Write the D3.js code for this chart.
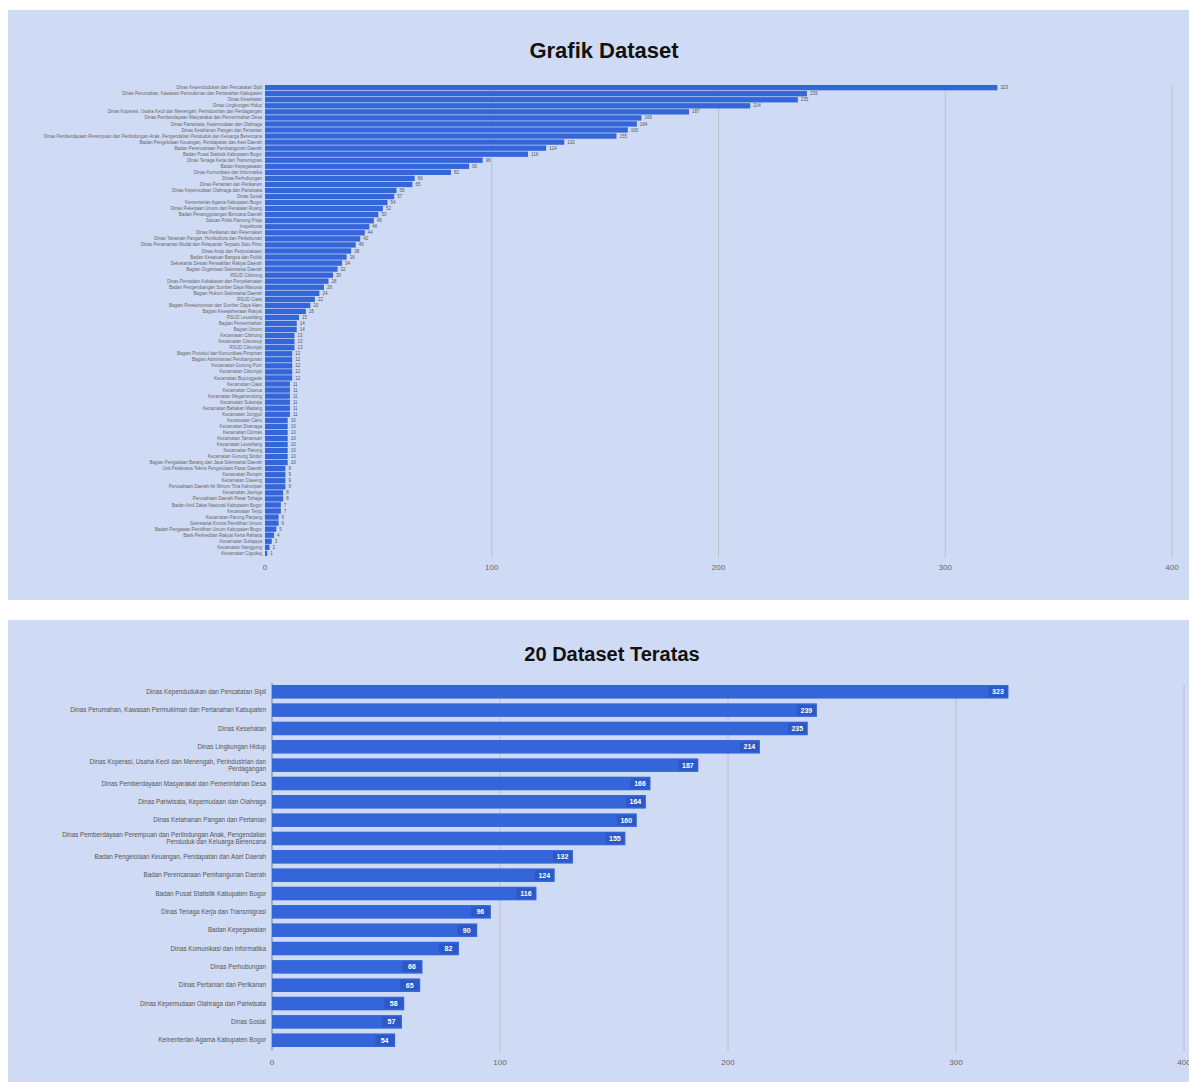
<!DOCTYPE html>
<html>
<head>
<meta charset="utf-8">
<script src="https://cdn.jsdelivr.net/npm/d3@7"></script>
<style>
  body { margin: 0; background: #fff; overflow: hidden; font-family: Arial, "Liberation Sans", sans-serif; }
  svg { display: block; }
</style>
</head>
<body>
<svg id="chart" width="1189" height="1082"></svg>
<script>
/* data */
var topNames = [
  "Dinas Kependudukan dan Pencatatan Sipil",
  "Dinas Perumahan, Kawasan Permukiman dan Pertanahan Kabupaten",
  "Dinas Kesehatan",
  "Dinas Lingkungan Hidup",
  "Dinas Koperasi, Usaha Kecil dan Menengah, Perindustrian dan Perdagangan",
  "Dinas Pemberdayaan Masyarakat dan Pemerintahan Desa",
  "Dinas Pariwisata, Kepemudaan dan Olahraga",
  "Dinas Ketahanan Pangan dan Pertanian",
  "Dinas Pemberdayaan Perempuan dan Perlindungan Anak, Pengendalian Penduduk dan Keluarga Berencana",
  "Badan Pengelolaan Keuangan, Pendapatan dan Aset Daerah",
  "Badan Perencanaan Pembangunan Daerah",
  "Badan Pusat Statistik Kabupaten Bogor",
  "Dinas Tenaga Kerja dan Transmigrasi",
  "Badan Kepegawaian",
  "Dinas Komunikasi dan Informatika",
  "Dinas Perhubungan",
  "Dinas Pertanian dan Perikanan",
  "Dinas Kepemudaan Olahraga dan Pariwisata",
  "Dinas Sosial",
  "Kementerian Agama Kabupaten Bogor"
];
var topValues = [323, 239, 235, 214, 187, 166, 164, 160, 155, 132, 124, 116, 96, 90, 82, 66, 65, 58, 57, 54];

var restNames = [
  "Dinas Pekerjaan Umum dan Penataan Ruang", "Badan Penanggulangan Bencana Daerah", "Satuan Polisi Pamong Praja",
  "Inspektorat", "Dinas Perikanan dan Peternakan", "Dinas Tanaman Pangan, Hortikultura dan Perkebunan",
  "Dinas Penanaman Modal dan Pelayanan Terpadu Satu Pintu", "Dinas Arsip dan Perpustakaan", "Badan Kesatuan Bangsa dan Politik",
  "Sekretariat Dewan Perwakilan Rakyat Daerah", "Bagian Organisasi Sekretariat Daerah", "RSUD Cibinong",
  "Dinas Pemadam Kebakaran dan Penyelamatan", "Badan Pengembangan Sumber Daya Manusia", "Bagian Hukum Sekretariat Daerah",
  "RSUD Ciawi", "Bagian Perekonomian dan Sumber Daya Alam", "Bagian Kesejahteraan Rakyat", "RSUD Leuwiliang",
  "Bagian Pemerintahan", "Bagian Umum", "Kecamatan Cibinong", "Kecamatan Citeureup", "RSUD Cileungsi",
  "Bagian Protokol dan Komunikasi Pimpinan", "Bagian Administrasi Pembangunan", "Kecamatan Gunung Putri",
  "Kecamatan Cileungsi", "Kecamatan Bojonggede", "Kecamatan Ciawi", "Kecamatan Cisarua", "Kecamatan Megamendung",
  "Kecamatan Sukaraja", "Kecamatan Babakan Madang", "Kecamatan Jonggol", "Kecamatan Cariu", "Kecamatan Dramaga",
  "Kecamatan Ciomas", "Kecamatan Tamansari", "Kecamatan Leuwiliang", "Kecamatan Parung", "Kecamatan Gunung Sindur",
  "Bagian Pengadaan Barang dan Jasa Sekretariat Daerah", "Unit Pelaksana Teknis Pengelolaan Pasar Daerah", "Kecamatan Rumpin",
  "Kecamatan Ciseeng", "Perusahaan Daerah Air Minum Tirta Kahuripan", "Kecamatan Jasinga", "Perusahaan Daerah Pasar Tohaga",
  "Badan Amil Zakat Nasional Kabupaten Bogor", "Kecamatan Tenjo", "Kecamatan Parung Panjang", "Sekretariat Komisi Pemilihan Umum",
  "Badan Pengawas Pemilihan Umum Kabupaten Bogor", "Bank Perkreditan Rakyat Kerta Raharja", "Kecamatan Sukajaya",
  "Kecamatan Nanggung", "Kecamatan Cigudeg"
];
var restValues = [
  52, 50, 48, 46, 44, 42, 40, 38, 36, 34, 32, 30, 28, 26, 24, 22, 20, 18,
  15, 14, 14, 13, 13, 13, 12, 12, 12, 12, 12, 11, 11, 11, 11, 11, 11,
  10, 10, 10, 10, 10, 10, 10, 10, 9, 9, 9, 9, 8, 8, 7, 7, 6, 6, 5, 4, 3, 2, 1
];

var allNames = topNames.concat(restNames);
var allValues = topValues.concat(restValues);
var xTicks = [0, 100, 200, 300, 400];

var svg = d3.select("#chart");
var barColor = "#3566d9";
var panelColor = "#cfdbf4";

/* ------- Grafik Dataset ------- */
var g1 = svg.append("g");
g1.append("rect").attr("x", 8).attr("y", 10).attr("width", 1200).attr("height", 590).attr("fill", panelColor);
g1.append("text").attr("x", 604).attr("y", 58).attr("text-anchor", "middle")
  .style("font-size", "22px").style("font-weight", "bold").attr("fill", "#111").text("Grafik Dataset");

var x1 = d3.scaleLinear().domain([0, 400]).range([265, 1172]);
var y1 = d3.scaleBand().domain(d3.range(allValues.length)).range([85, 556]).paddingInner(0.12);

g1.append("g").selectAll("line").data(xTicks.slice(1)).enter().append("line")
  .attr("x1", function(d) { return x1(d); }).attr("x2", function(d) { return x1(d); })
  .attr("y1", 85).attr("y2", 558).attr("stroke", "#b9c0cc").attr("stroke-width", 1);

g1.append("g").selectAll("rect").data(allValues).enter().append("rect")
  .attr("x", x1(0)).attr("y", function(d, i) { return y1(i); })
  .attr("width", function(d) { return x1(d) - x1(0); })
  .attr("height", y1.bandwidth()).attr("fill", barColor);

g1.append("g").selectAll("text").data(allValues).enter().append("text")
  .attr("x", function(d) { return x1(d) + 3; })
  .attr("y", function(d, i) { return y1(i) + y1.bandwidth() / 2; })
  .attr("dy", "0.35em").style("font-size", "4.5px").attr("fill", "#555")
  .text(function(d) { return d; });

g1.append("g").selectAll("text").data(allNames).enter().append("text")
  .attr("x", 262).attr("y", function(d, i) { return y1(i) + y1.bandwidth() / 2; })
  .attr("dy", "0.35em").attr("text-anchor", "end").style("font-size", "4.5px").attr("fill", "#666")
  .text(function(d) { return d; });

g1.append("g").selectAll("text").data(xTicks).enter().append("text")
  .attr("x", function(d) { return x1(d); }).attr("y", 570).attr("text-anchor", "middle")
  .style("font-size", "8px").attr("fill", "#666").text(function(d) { return d; });

/* ------- 20 Dataset Teratas ------- */
var g2 = svg.append("g");
g2.append("rect").attr("x", 8).attr("y", 620).attr("width", 1200).attr("height", 470).attr("fill", panelColor);
g2.append("text").attr("x", 612).attr("y", 661).attr("text-anchor", "middle")
  .style("font-size", "20px").style("font-weight", "bold").attr("fill", "#111").text("20 Dataset Teratas");

var x2 = d3.scaleLinear().domain([0, 400]).range([272, 1184]);
var y2 = d3.scaleBand().domain(d3.range(topValues.length)).range([685, 1047]).paddingInner(0.26);

g2.append("g").selectAll("line").data(xTicks.slice(1)).enter().append("line")
  .attr("x1", function(d) { return x2(d); }).attr("x2", function(d) { return x2(d); })
  .attr("y1", 685).attr("y2", 1052).attr("stroke", "#b9c0cc").attr("stroke-width", 1);
g2.append("line").attr("x1", x2(0)).attr("x2", x2(0)).attr("y1", 683).attr("y2", 1050)
  .attr("stroke", "#6f7fa8").attr("stroke-width", 1);

g2.append("g").selectAll("rect").data(topValues).enter().append("rect")
  .attr("x", x2(0)).attr("y", function(d, i) { return y2(i); })
  .attr("width", function(d) { return x2(d) - x2(0); })
  .attr("height", y2.bandwidth()).attr("fill", barColor);

var vl = g2.append("g").selectAll("g").data(topValues).enter().append("g");
vl.append("rect")
  .attr("x", function(d) { return x2(d) - 20; })
  .attr("y", function(d, i) { return y2(i) + 1.5; })
  .attr("width", 19).attr("height", y2.bandwidth() - 3).attr("fill", "#2d59c8");
vl.append("text")
  .attr("x", function(d) { return x2(d) - 10.5; })
  .attr("y", function(d, i) { return y2(i) + y2.bandwidth() / 2; })
  .attr("dy", "0.35em").attr("text-anchor", "middle").style("font-size", "7px").style("font-weight", "bold")
  .attr("fill", "#fff").text(function(d) { return d; });

function wrap(text, width) {
  text.each(function() {
    var t = d3.select(this), words = t.text().split(/\s+/), line = [], lines = [];
    words.forEach(function(w) {
      line.push(w);
      t.text(line.join(" "));
      if (t.node().getComputedTextLength() > width && line.length > 1) {
        line.pop(); lines.push(line.join(" ")); line = [w];
      }
    });
    lines.push(line.join(" "));
    var cy = +t.attr("y");
    t.text(null);
    lines.forEach(function(l, k) {
      t.append("tspan").attr("x", t.attr("x"))
        .attr("y", cy + (k - (lines.length - 1) / 2) * 6.5).attr("dy", "0.35em").text(l);
    });
  });
}

g2.append("g").selectAll("text").data(topNames).enter().append("text")
  .attr("x", 266).attr("y", function(d, i) { return y2(i) + y2.bandwidth() / 2; })
  .attr("text-anchor", "end").style("font-size", "6.3px").attr("fill", "#555")
  .text(function(d) { return d; })
  .call(wrap, 205);

g2.append("g").selectAll("text").data(xTicks).enter().append("text")
  .attr("x", function(d) { return x2(d); }).attr("y", 1065).attr("text-anchor", "middle")
  .style("font-size", "8px").attr("fill", "#666").text(function(d) { return d; });
</script>
</body>
</html>
